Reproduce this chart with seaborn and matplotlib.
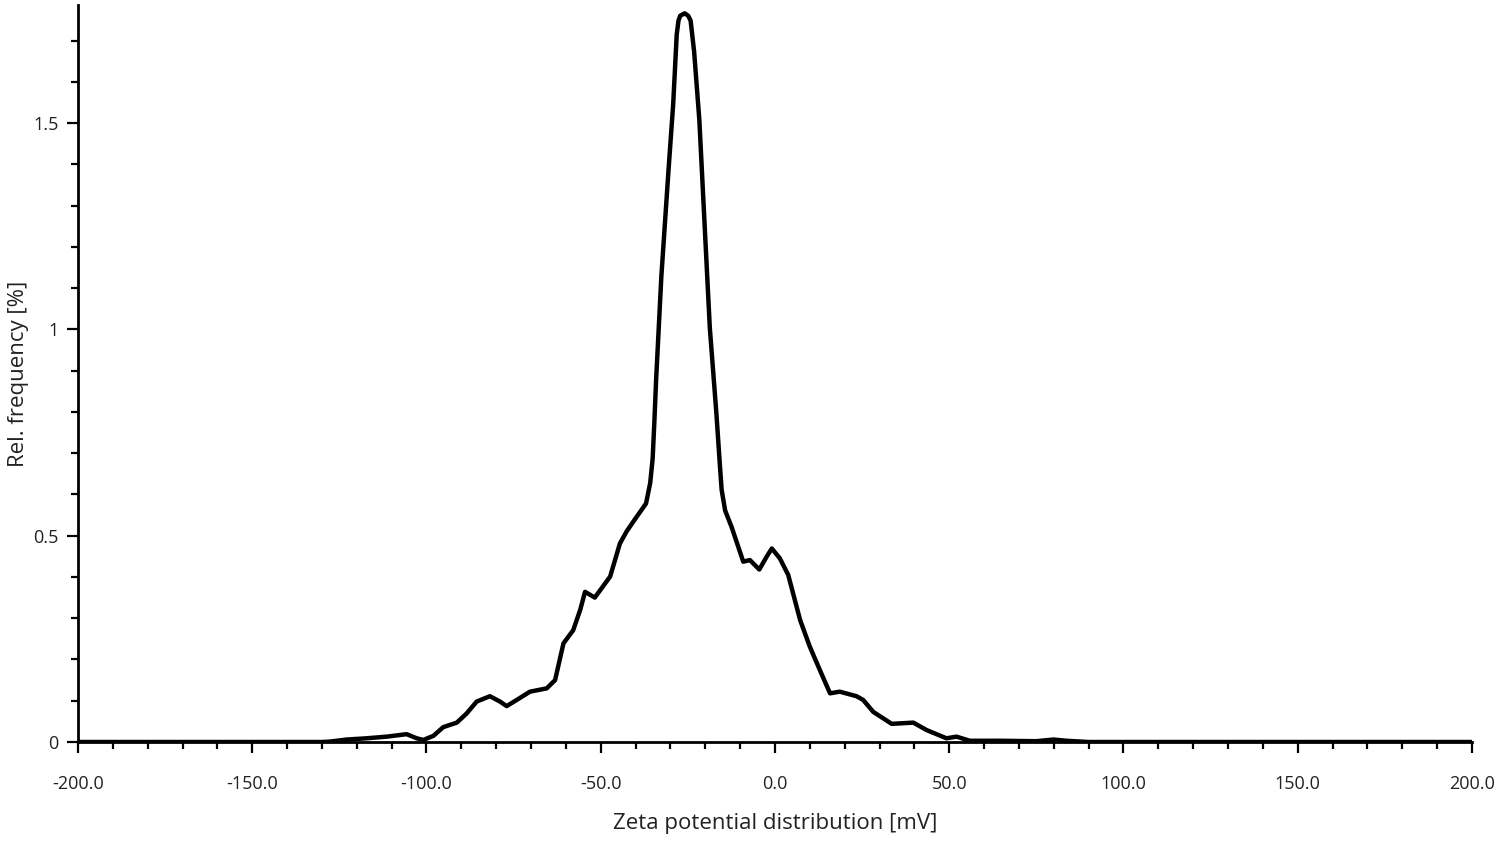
import matplotlib
matplotlib.use("Agg")
import matplotlib.pyplot as plt
import seaborn as sns
import pandas as pd
import numpy as np
from matplotlib.ticker import MultipleLocator, FuncFormatter

# Zeta potential [mV] and relative frequency [%]
zeta_mv = [
    -200.0, -150.0, -130.0, -127.7, -122.9, -117.2, -111.4, -105.7, -102.8, -100.9,
    -98.0, -95.2, -91.3, -88.5, -85.6, -81.8, -78.9, -77.0, -74.1, -70.3,
    -65.5, -63.1, -60.7, -57.9, -55.9, -54.5, -51.7, -47.3, -44.5, -42.6,
    -40.5, -37.0, -35.8, -35.1, -34.6, -34.1, -32.6, -30.6, -29.2, -28.2,
    -27.7, -27.2, -25.9, -24.9, -24.2, -23.2, -21.7, -20.2, -18.7, -16.8,
    -15.8, -15.3, -14.3, -12.4, -9.1,
    -7.2, -4.5, -2.4, -0.9, 1.4, 3.8, 7.2, 10.0, 12.9, 15.8,
    18.6, 23.4, 25.3, 28.2, 33.5, 39.7, 43.5, 49.2, 52.1, 55.9,
    64.6, 75.0, 79.9, 83.7, 90.0, 150.0, 200.0,
]
rel_freq = [
    0.0, 0.0, 0.0, 0.001, 0.006, 0.009, 0.013, 0.019, 0.009, 0.005,
    0.015, 0.036, 0.047, 0.069, 0.098, 0.111, 0.098, 0.087, 0.102, 0.122,
    0.130, 0.150, 0.239, 0.271, 0.320, 0.364, 0.350, 0.401, 0.481, 0.510,
    0.536, 0.578, 0.628, 0.687, 0.778, 0.879, 1.129, 1.380, 1.547, 1.714,
    1.748, 1.760, 1.766, 1.760, 1.748, 1.673, 1.507, 1.255, 1.004, 0.795,
    0.670, 0.611, 0.561, 0.520, 0.437,
    0.441, 0.418, 0.449, 0.469, 0.445, 0.405, 0.296, 0.231, 0.174, 0.118,
    0.122, 0.111, 0.102, 0.073, 0.044, 0.047, 0.029, 0.009, 0.013, 0.003,
    0.003, 0.002, 0.006, 0.003, 0.0, 0.0, 0.0,
]

x_ticks = [-200, -150, -100, -50, 0, 50, 100, 150, 200]
y_ticks = [0, 0.5, 1, 1.5]

sns.set_theme(style="ticks")
plt.rcParams['font.family'] = ['Open Sans', 'DejaVu Sans']

df = pd.DataFrame({'zeta': zeta_mv, 'freq': rel_freq})

fig = plt.figure(figsize=(15, 8.43), dpi=100)
ax = fig.add_axes([0.052, 0.1198, 0.9293, 0.8742])

sns.lineplot(data=df, x='zeta', y='freq', ax=ax, color='black', linewidth=3.2,
             estimator=None, sort=False, solid_joinstyle='round', solid_capstyle='round')

ax.set_xlim(-200, 200)
ax.set_ylim(0, 1.786)
ax.set_xticks(x_ticks)
ax.set_yticks(y_ticks)
ax.xaxis.set_minor_locator(MultipleLocator(10))
ax.yaxis.set_minor_locator(MultipleLocator(0.1))
ax.xaxis.set_major_formatter(FuncFormatter(lambda v, p: f"{v:.1f}"))
ax.yaxis.set_major_formatter(FuncFormatter(lambda v, p: f"{v:g}"))

ax.tick_params(axis='both', which='major', direction='out', length=8, width=1.6,
               labelsize=13, colors='black', labelcolor='#222222')
ax.tick_params(axis='both', which='minor', direction='out', length=5, width=1.6,
               colors='black')
ax.tick_params(axis='x', which='major', pad=16)
ax.tick_params(axis='y', which='major', pad=6)

for side in ['top', 'right']:
    ax.spines[side].set_visible(False)
for side in ['left', 'bottom']:
    ax.spines[side].set_linewidth(2.0)
    ax.spines[side].set_color('black')

ax.set_xlabel('Zeta potential distribution [mV]', fontsize=16, color='#222222', va='center')
ax.set_ylabel('Rel. frequency [%]', fontsize=16, color='#222222', va='center')
ax.xaxis.set_label_coords(0.5, -0.11)
ax.yaxis.set_label_coords(-0.043, 0.5)

fig.savefig('out.png', dpi=100)
